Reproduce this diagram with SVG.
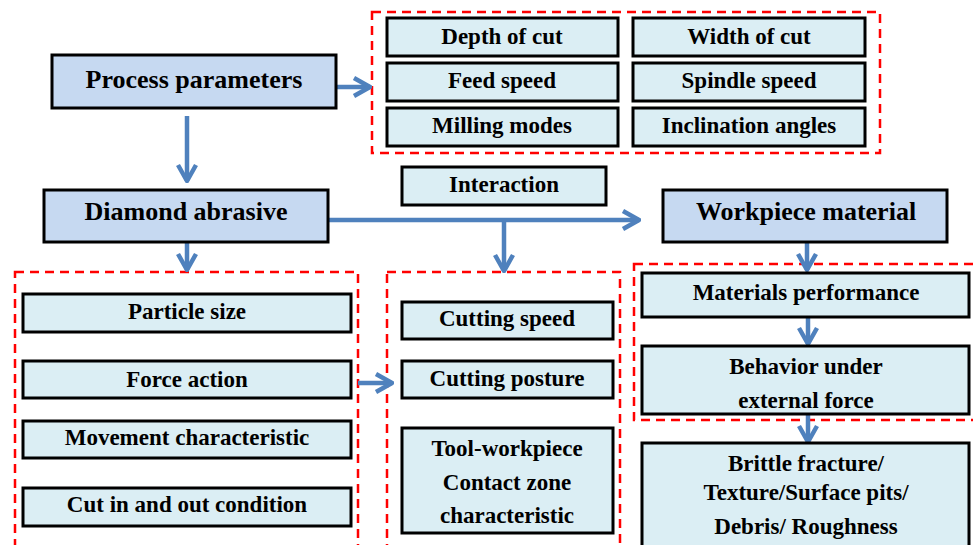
<svg xmlns="http://www.w3.org/2000/svg" width="973" height="545" viewBox="0 0 973 545">
<defs>
<style>
.big{fill:#c6d9f1;stroke:#000;stroke-width:3}
.sm{fill:#dbeef4;stroke:#000;stroke-width:3}
.grp{fill:none;stroke:#ff0000;stroke-width:2.5;stroke-dasharray:9 6}
.t{font-family:"Liberation Serif","Times New Roman",serif;font-weight:bold;fill:#000;text-anchor:middle}
.tb{font-size:26px}
.ts{font-size:23px}
.c{fill:none;stroke:#4f81bd;stroke-width:4.5}
</style>
<marker id="ah" markerUnits="userSpaceOnUse" viewBox="-20 -12 22 24" refX="0" refY="0" markerWidth="22" markerHeight="24" orient="auto">
<path d="M-16,-9 L0,0 L-16,9" fill="none" stroke="#4f81bd" stroke-width="4.5" stroke-linejoin="round"/>
</marker>
</defs>
<rect width="973" height="545" fill="#fff"/>

<g id="group-params"><rect class="grp" x="372" y="12" width="508" height="141"/></g>
<g id="group-abrasive"><rect class="grp" x="15" y="272" width="343" height="290"/></g>
<g id="group-interaction"><rect class="grp" x="387" y="272" width="233" height="290"/></g>
<g id="group-material"><rect class="grp" x="634" y="264" width="350" height="156"/></g>

<g id="connectors">
<path class="c" d="M336,87 H370" marker-end="url(#ah)"/>
<path class="c" d="M187,116 V181" marker-end="url(#ah)"/>
<path class="c" d="M328,220 H639" marker-end="url(#ah)"/>
<path class="c" d="M504,220 V271" marker-end="url(#ah)"/>
<path class="c" d="M187,242 V270" marker-end="url(#ah)"/>
<path class="c" d="M807,242 V270" marker-end="url(#ah)"/>
<path class="c" d="M358,383 H392" marker-end="url(#ah)"/>
<path class="c" d="M808,317 V344" marker-end="url(#ah)"/>
<path class="c" d="M808,414 V442" marker-end="url(#ah)"/>
</g>

<g id="process-parameters"><rect class="big" x="52" y="55" width="284" height="53"/><text class="t tb" x="194" y="88">Process parameters</text></g>
<g id="depth-of-cut"><rect class="sm" x="387" y="18" width="231" height="38"/><text class="t ts" x="502" y="44">Depth of cut</text></g>
<g id="width-of-cut"><rect class="sm" x="633" y="18" width="232" height="38"/><text class="t ts" x="749" y="44">Width of cut</text></g>
<g id="feed-speed"><rect class="sm" x="387" y="63" width="231" height="38"/><text class="t ts" x="502" y="88">Feed speed</text></g>
<g id="spindle-speed"><rect class="sm" x="633" y="63" width="232" height="38"/><text class="t ts" x="749" y="88">Spindle speed</text></g>
<g id="milling-modes"><rect class="sm" x="387" y="108" width="231" height="38"/><text class="t ts" x="502" y="133">Milling  modes</text></g>
<g id="inclination-angles"><rect class="sm" x="633" y="108" width="232" height="38"/><text class="t ts" x="749" y="133">Inclination  angles</text></g>

<g id="diamond-abrasive"><rect class="big" x="44" y="190" width="284" height="52"/><text class="t tb" x="186" y="220">Diamond abrasive</text></g>
<g id="interaction"><rect class="sm" x="402" y="167" width="204" height="38"/><text class="t ts" x="504" y="192">Interaction</text></g>
<g id="workpiece-material"><rect class="big" x="663" y="190" width="284" height="52"/><text class="t tb" x="806" y="220">Workpiece material</text></g>

<g id="particle-size"><rect class="sm" x="23" y="294" width="328" height="38"/><text class="t ts" x="187" y="319">Particle size</text></g>
<g id="force-action"><rect class="sm" x="23" y="361" width="328" height="37"/><text class="t ts" x="187" y="387">Force action</text></g>
<g id="movement-characteristic"><rect class="sm" x="23" y="421" width="328" height="37"/><text class="t ts" x="187" y="445">Movement characteristic</text></g>
<g id="cut-in-out"><rect class="sm" x="23" y="488" width="328" height="38"/><text class="t ts" x="187" y="512">Cut in and out condition</text></g>

<g id="cutting-speed"><rect class="sm" x="402" y="302" width="211" height="37"/><text class="t ts" x="507" y="326">Cutting speed</text></g>
<g id="cutting-posture"><rect class="sm" x="402" y="361" width="211" height="37"/><text class="t ts" x="507" y="386">Cutting posture</text></g>
<g id="contact-zone"><rect class="sm" x="402" y="428" width="211" height="105"/><text class="t ts" x="507" y="456">Tool-workpiece</text><text class="t ts" x="507" y="490">Contact zone</text><text class="t ts" x="507" y="523">characteristic</text></g>

<g id="materials-performance"><rect class="sm" x="642" y="273" width="327" height="44"/><text class="t ts" x="806" y="300">Materials performance</text></g>
<g id="behavior"><rect class="sm" x="642" y="346" width="327" height="68"/><text class="t ts" x="806" y="374">Behavior under</text><text class="t ts" x="806" y="408">external force</text></g>
<g id="results"><rect class="sm" x="642" y="443" width="327" height="115"/><text class="t ts" x="806" y="471">Brittle fracture/</text><text class="t ts" x="806" y="500">Texture/Surface pits/</text><text class="t ts" x="806" y="534">Debris/ Roughness</text></g>
</svg>
